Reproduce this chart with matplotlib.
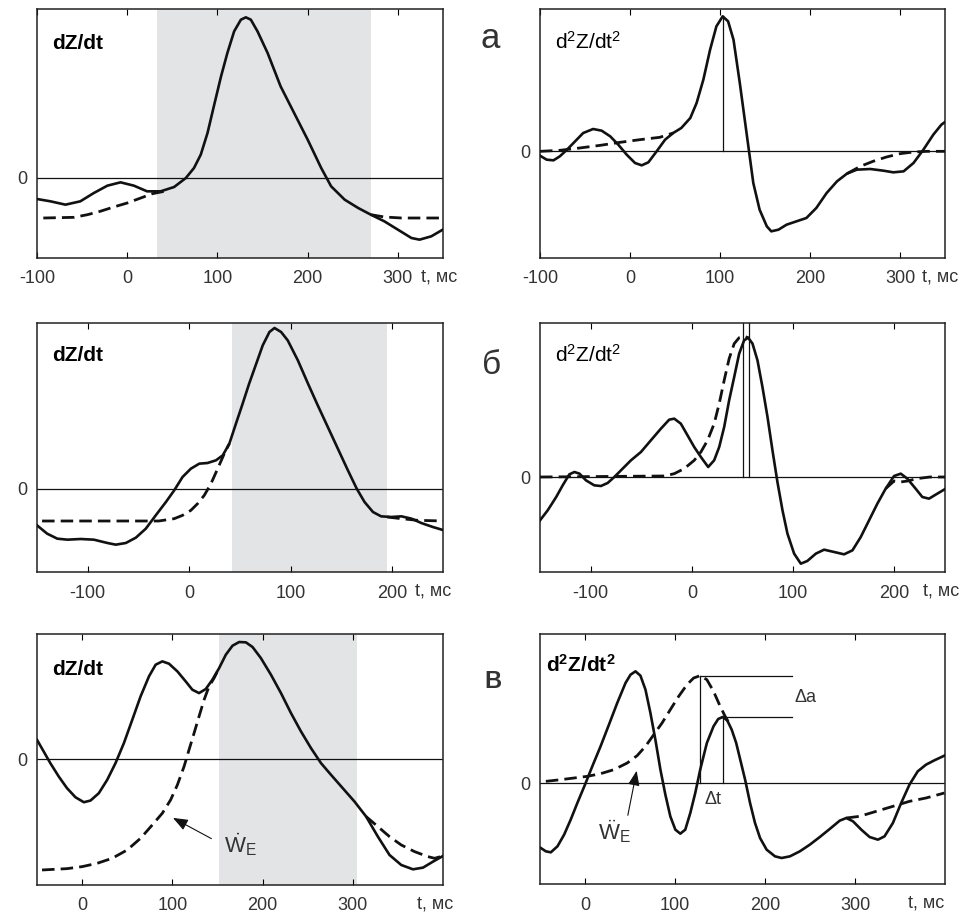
# Recreation of the six-panel dZ/dt and d2Z/dt2 figure (panels а, б, в).
import matplotlib.pyplot as plt

plt.rcParams['font.family'] = ['Liberation Sans', 'DejaVu Sans']
plt.rcParams['mathtext.default'] = 'regular'

SHADE = '#e3e4e6'
INK = '#111111'
TXT = '#333333'

# ---- panel а, dZ/dt ----
a_dz_t = [-100, -85, -68.5, -52, -37, -22, -7.4, 7.4, 22, 37, 52, 65, 74, 81.5, 89, 96, 104, 111,
          118.5, 126, 131.5, 137, 144.4, 155.6, 170, 185, 200, 215, 226, 241, 256, 270, 285, 300,
          315, 324, 337, 351]
a_dz_y = [-0.63, -0.7, -0.8, -0.7, -0.45, -0.23, -0.13, -0.23, -0.4, -0.4, -0.27, 0.0, 0.3, 0.7,
          1.35, 2.15, 3.05, 3.75, 4.4, 4.75, 4.82, 4.75, 4.4, 3.75, 2.75, 1.95, 1.15, 0.3, -0.25,
          -0.65, -0.9, -1.1, -1.3, -1.55, -1.8, -1.85, -1.75, -1.53]
a_dz_pre_t = [-93, -59, -44, -30, -15, 0, 15, 28, 41]
a_dz_pre_y = [-1.2, -1.18, -1.1, -1.0, -0.87, -0.75, -0.6, -0.47, -0.4]
a_dz_post_t = [270, 285, 304, 351]
a_dz_post_y = [-1.1, -1.17, -1.2, -1.2]
a_shade = (33, 270)

# ---- panel а, d2Z/dt2 ----
a_d2_t = [-100, -92.6, -85, -78, -70, -61, -52, -41, -31.5, -22, -13, -3.7, 5.6, 13, 20.4, 29.6,
          39, 48, 57, 67, 74, 81.5, 89, 96, 103, 109, 115, 122, 130, 137, 144, 152, 157, 165,
          174, 185, 196, 207, 218.5, 230, 241, 252, 267, 281.5, 292.6, 304, 315, 326, 337, 346, 350]
a_d2_y = [-0.13, -0.25, -0.27, -0.15, 0.05, 0.3, 0.55, 0.67, 0.62, 0.45, 0.2, -0.1, -0.35, -0.42,
          -0.33, 0.0, 0.35, 0.55, 0.7, 1.0, 1.45, 2.15, 3.05, 3.75, 4.05, 3.9, 3.35, 2.05, 0.45,
          -0.95, -1.75, -2.25, -2.4, -2.35, -2.2, -2.1, -2.0, -1.7, -1.25, -0.9, -0.67, -0.55,
          -0.53, -0.58, -0.63, -0.6, -0.35, 0.05, 0.5, 0.8, 0.88]
a_d2_pre_t = [-100, -78, -56, -33, -11, 11, 33, 48]
a_d2_pre_y = [0.0, 0.03, 0.1, 0.18, 0.27, 0.35, 0.42, 0.55]
a_d2_post_t = [241, 256, 270, 285, 300, 315, 330, 350]
a_d2_post_y = [-0.67, -0.45, -0.3, -0.17, -0.07, -0.02, 0.0, 0.0]
a_peak = (103, 4.05)

# ---- panel б, dZ/dt ----
b_dz_t = [-150, -140, -130, -120, -107, -94, -80.6, -72.4, -62.5, -52.6, -42.8, -33, -23, -14.8,
          -6.6, 1.6, 9.9, 18, 26.3, 33, 39.5, 46, 52.6, 59, 66, 72.4, 79, 84, 90.5, 97, 107, 117,
          126.6, 136.5, 146.4, 156.3, 165, 172.7, 181, 189, 199, 209, 219, 228.6, 240, 251]
b_dz_y = [-1.1, -1.35, -1.5, -1.53, -1.51, -1.53, -1.63, -1.68, -1.63, -1.47, -1.2, -0.8, -0.4,
          -0.05, 0.35, 0.6, 0.75, 0.77, 0.85, 1.0, 1.35, 1.95, 2.55, 3.15, 3.75, 4.3, 4.7, 4.82,
          4.7, 4.45, 3.85, 3.15, 2.5, 1.85, 1.2, 0.55, 0.0, -0.4, -0.7, -0.83, -0.85, -0.83,
          -0.9, -1.03, -1.15, -1.25]
b_dz_pre_t = [-145, -30, -14.8, -6.6, 1.6, 8.2, 14.8, 21.4, 28, 34.5, 39.5]
b_dz_pre_y = [-0.97, -0.97, -0.9, -0.8, -0.65, -0.45, -0.2, 0.15, 0.6, 1.05, 1.35]
b_dz_post_t = [195, 209, 225, 251]
b_dz_post_y = [-0.85, -0.9, -0.95, -0.97]
b_shade = (42, 195)

# ---- panel б, d2Z/dt2 ----
b_d2_t = [-150, -142.4, -134, -127.6, -121, -116, -111, -104.6, -96.4, -89.8, -83.2, -76.6, -68.4,
          -60.2, -50.3, -40.5, -30.6, -22.4, -17.4, -10.9, -4.3, 2.3, 8.9, 16.1, 22, 27, 31.9,
          36.8, 41.8, 46.7, 51.6, 55.6, 59.9, 64.8, 69.7, 74.7, 79.6, 84.5, 89.5, 94.4, 101,
          107.6, 114, 122.4, 130.6, 140.5, 150.3, 158.6, 166.8, 175, 183.2, 191.4, 199.7, 206.3,
          212.8, 221, 227.6, 234.2, 242.4, 250.7]
b_d2_y = [-1.3, -1.0, -0.6, -0.25, 0.08, 0.15, 0.1, -0.1, -0.25, -0.27, -0.18, 0.0, 0.25, 0.5,
          0.75, 1.1, 1.45, 1.72, 1.75, 1.6, 1.25, 0.9, 0.6, 0.3, 0.5, 0.9, 1.5, 2.3, 3.0, 3.7,
          4.1, 4.18, 4.0, 3.5, 2.7, 1.8, 0.8, -0.15, -1.0, -1.7, -2.3, -2.6, -2.52, -2.3, -2.18,
          -2.25, -2.32, -2.2, -1.8, -1.3, -0.8, -0.35, 0.03, 0.1, -0.05, -0.35, -0.6, -0.65,
          -0.5, -0.35]
b_d2_pre_t = [-150, -27, -17.4, -7.6, 2.3, 8.9, 15.5, 22, 27, 31.9, 36.8, 41.8, 46.7, 51.6, 55.6]
b_d2_pre_y = [0.0, 0.03, 0.1, 0.25, 0.5, 0.75, 1.1, 1.6, 2.2, 2.9, 3.55, 4.0, 4.18, 4.22, 4.18]
b_d2_post_t = [191.4, 199.7, 206, 213, 222, 235, 250.7]
b_d2_post_y = [-0.35, -0.12, -0.15, -0.12, -0.05, 0.0, 0.0]
b_marks = [50, 56]

# ---- panel в, dZ/dt ----
c_dz_t = [-50, -42.6, -35.2, -25.9, -16.7, -7.4, 1.9, 9.3, 18.5, 27.8, 37, 46.3, 55.6, 64.8, 74.1,
          81.5, 88.9, 96.3, 105.6, 114.8, 122.2, 129.6, 137, 144.4, 151.9, 159.3, 166.7, 174.1,
          181.5, 188.9, 198.1, 209.3, 220.4, 231.5, 242.6, 253.7, 264.8, 275.9, 288.9, 301.9,
          314.8, 327.8, 340.7, 353.7, 366.7, 377.8, 388.9, 400]
c_dz_y = [0.58, 0.23, -0.12, -0.52, -0.87, -1.14, -1.29, -1.24, -1.02, -0.62, -0.12, 0.48, 1.18,
          1.88, 2.48, 2.83, 2.93, 2.86, 2.63, 2.33, 2.08, 1.98, 2.1, 2.38, 2.73, 3.13, 3.4, 3.51,
          3.5, 3.36, 3.03, 2.53, 1.98, 1.38, 0.83, 0.33, -0.12, -0.47, -0.87, -1.27, -1.72,
          -2.32, -2.87, -3.17, -3.3, -3.25, -3.07, -2.9]
c_dz_pre_t = [-44.4, -16.7, 0, 16.7, 33.3, 50, 64.8, 77.8, 88.9, 98.1, 105.6, 113, 118.5, 124.1,
              129.6, 135.2, 140.7, 146.3, 151.9]
c_dz_pre_y = [-3.32, -3.28, -3.22, -3.12, -2.97, -2.72, -2.37, -1.97, -1.62, -1.22, -0.77, -0.22,
              0.28, 0.78, 1.28, 1.78, 2.18, 2.43, 2.73]
c_dz_post_t = [314.8, 327.8, 340.7, 353.7, 368.5, 383.3, 390.7, 400]
c_dz_post_y = [-1.72, -2.02, -2.32, -2.57, -2.77, -2.92, -2.97, -2.9]
c_shade = (152, 305)

# ---- panel в, d2Z/dt2 ----
c_d2_t = [-49.1, -43.5, -38, -30.6, -23.2, -15.9, -8.5, 0, 8.1, 17.3, 26.6, 35.8, 45, 50.6, 56.1,
          61.6, 67.2, 72.7, 78.2, 83.8, 89.3, 94.8, 100.4, 105.9, 111.4, 117, 122.5, 128, 135.4,
          142.8, 148, 153, 158, 163, 168, 177.9, 183.4, 188.9, 194.5, 201.8, 211.1,
          218.5, 227.7, 238.7, 249.8, 260.9, 271.9, 283, 290.4, 297.8, 307, 316.2, 325.5, 332.8,
          342.1, 351.3, 360.5, 369.7, 378.9, 388.2, 399.3]
c_d2_y = [-1.95, -2.05, -2.08, -1.9, -1.55, -1.1, -0.6, -0.05, 0.5, 1.1, 1.75, 2.4, 3.0, 3.25,
          3.35, 3.22, 2.8, 2.1, 1.3, 0.4, -0.35, -1.0, -1.4, -1.52, -1.4, -0.9, -0.3, 0.4, 1.2,
          1.7, 1.92, 1.98, 1.88, 1.6, 1.2, 0.1, -0.6, -1.2, -1.65, -2.0, -2.2, -2.25, -2.2, -2.05,
          -1.85, -1.62, -1.38, -1.13, -1.05, -1.15, -1.4, -1.62, -1.7, -1.6, -1.2, -0.6, -0.05,
          0.35, 0.55, 0.68, 0.82]
c_d2_pre_t = [-43.5, -26.9, -12.2, 2.6, 17.3, 32.1, 46.9, 57.9, 67.2, 76.4, 85.6, 94.8, 104.1,
              113.3, 120.7, 128, 135.4, 142.8, 150.2, 155.7, 160]
c_d2_pre_y = [0.05, 0.1, 0.15, 0.2, 0.28, 0.4, 0.6, 0.82, 1.1, 1.45, 1.8, 2.2, 2.6, 2.95, 3.15,
              3.22, 3.1, 2.75, 2.3, 2.0, 1.8]
c_d2_post_t = [290.4, 305.1, 323.6, 342.1, 360.5, 378.9, 399.3]
c_d2_post_y = [-1.05, -1.0, -0.85, -0.7, -0.55, -0.45, -0.3]
c_model_peak = (128, 3.22)
c_real_peak = (153, 1.98)
c_bracket_end = 230

# ---- axes setup: limits, ticks ----
xlims = [(-100, 350), (-100, 350), (-150, 250), (-150, 250), (-50, 400), (-50, 400)]
ylims = [(-2.4, 5.07), (-3.2, 4.27), (-2.5, 4.97), (-2.85, 4.62), (-3.77, 3.75), (-3.03, 4.47)]
xticks = [[-100, 0, 100, 200, 300], [-100, 0, 100, 200, 300], [-100, 0, 100, 200],
          [-100, 0, 100, 200], [0, 100, 200, 300], [0, 100, 200, 300]]
unit_x = [0.945, 0.943, 0.931, 0.946, 0.936, 0.909]

fig = plt.figure(figsize=(9.75, 9.16), dpi=100)
W, H = 975, 916
boxes = [(37, 9, 443, 258), (540, 9, 945, 258), (37, 323, 443, 572), (540, 323, 945, 572),
         (37, 634, 443, 885), (540, 634, 945, 884)]
axs = []
for (x0, y0, x1, y1) in boxes:
    axs.append(fig.add_axes([x0 / W, 1 - y1 / H, (x1 - x0) / W, (y1 - y0) / H]))

for i, ax in enumerate(axs):
    ax.set_xlim(*xlims[i])
    ax.set_ylim(*ylims[i])
    ax.set_xticks(xticks[i])
    ax.set_xticklabels([str(v) for v in xticks[i]])
    ax.set_yticks([0])
    ax.set_yticklabels(['0'])
    ax.tick_params(axis='x', direction='in', top=True, bottom=True, length=4, width=0.8,
                   pad=9, labelsize=13, labelcolor=TXT)
    ax.tick_params(axis='y', length=0, pad=7, labelsize=13, labelcolor=TXT)
    for s in ax.spines.values():
        s.set_linewidth(1.1)
        s.set_color('#222222')
    ax.axhline(0, color=INK, lw=0.9, zorder=2)
    ax.text(unit_x[i], -0.075, 't, мс', transform=ax.transAxes, fontsize=13, color=TXT,
            ha='left', va='center')


def draw(ax, t, y, pre, post):
    ax.plot(t, y, color=INK, lw=1.9, zorder=4, solid_joinstyle='round')
    for seg in (pre, post):
        ax.plot(seg[0], seg[1], color=INK, lw=2.0, ls=(0, (4.5, 2.2)), zorder=3)


# а
ax = axs[0]
ax.axvspan(*a_shade, color=SHADE, lw=0, zorder=0)
draw(ax, a_dz_t, a_dz_y, (a_dz_pre_t, a_dz_pre_y), (a_dz_post_t, a_dz_post_y))
ax.text(0.037, 0.863, 'dZ/dt', transform=ax.transAxes, fontsize=15, fontweight='bold', va='center')

ax = axs[1]
draw(ax, a_d2_t, a_d2_y, (a_d2_pre_t, a_d2_pre_y), (a_d2_post_t, a_d2_post_y))
ax.plot([a_peak[0], a_peak[0]], [0, a_peak[1]], color=INK, lw=0.9, zorder=2)
ax.text(0.037, 0.867, 'd$^2$Z/dt$^2$', transform=ax.transAxes, fontsize=15, va='center')

# б
ax = axs[2]
ax.axvspan(*b_shade, color=SHADE, lw=0, zorder=0)
draw(ax, b_dz_t, b_dz_y, (b_dz_pre_t, b_dz_pre_y), (b_dz_post_t, b_dz_post_y))
ax.text(0.037, 0.871, 'dZ/dt', transform=ax.transAxes, fontsize=15, fontweight='bold', va='center')

ax = axs[3]
draw(ax, b_d2_t, b_d2_y, (b_d2_pre_t, b_d2_pre_y), (b_d2_post_t, b_d2_post_y))
for m in b_marks:
    ax.plot([m, m], [0, ylims[3][1]], color=INK, lw=0.9, zorder=2)
ax.text(0.037, 0.871, 'd$^2$Z/dt$^2$', transform=ax.transAxes, fontsize=15, va='center')

# в
ax = axs[4]
ax.axvspan(*c_shade, color=SHADE, lw=0, zorder=0)
draw(ax, c_dz_t, c_dz_y, (c_dz_pre_t, c_dz_pre_y), (c_dz_post_t, c_dz_post_y))
ax.text(0.037, 0.857, 'dZ/dt', transform=ax.transAxes, fontsize=15, fontweight='bold', va='center')
ax.annotate('', xy=(98, -1.72), xytext=(146, -2.42),
            arrowprops=dict(arrowstyle='-|>,head_length=0.9,head_width=0.35', color=INK, lw=0.8))
ax.text(157, -2.55, r'$\dot{W}_E$', fontsize=16, color=TXT, ha='left', va='center')

ax = axs[5]
draw(ax, c_d2_t, c_d2_y, (c_d2_pre_t, c_d2_pre_y), (c_d2_post_t, c_d2_post_y))
ax.plot([c_model_peak[0]] * 2, [0, c_model_peak[1]], color=INK, lw=0.9, zorder=2)
ax.plot([c_real_peak[0]] * 2, [0, c_real_peak[1]], color=INK, lw=0.9, zorder=2)
ax.plot([c_model_peak[0], c_bracket_end], [c_model_peak[1]] * 2, color=INK, lw=0.9)
ax.plot([c_real_peak[0], c_bracket_end], [c_real_peak[1]] * 2, color=INK, lw=0.9)
ax.text(233, 2.55, 'Δa', fontsize=13, color=TXT, ha='left', va='center')
ax.text(133, -0.5, 'Δt', fontsize=13, color=TXT, ha='left', va='center')
ax.annotate('', xy=(58, 0.45), xytext=(47, -1.05),
            arrowprops=dict(arrowstyle='-|>,head_length=0.9,head_width=0.35', color=INK, lw=0.8))
ax.text(14, -1.45, r'$\ddot{W}_E$', fontsize=16, color=TXT, ha='left', va='center')
ax.text(0.015, 0.876, 'd$^2$Z/dt$^2$', transform=ax.transAxes, fontsize=15,
        fontweight='bold', va='center')

# panel letters
fig.text(490 / W, 1 - 38 / H, 'а', fontsize=25, color=TXT, ha='center', va='center')
fig.text(492 / W, 1 - 365 / H, 'б', fontsize=24, color=TXT, ha='center', va='center')
fig.text(493 / W, 1 - 682 / H, 'В', fontsize=17, fontweight='bold', color=TXT,
         ha='center', va='center')

fig.savefig('out.png', dpi=100)
